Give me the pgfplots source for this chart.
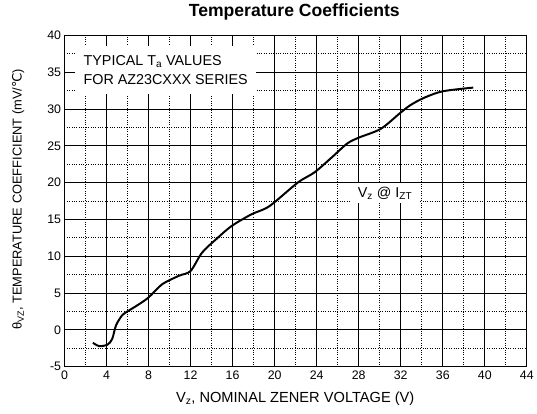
\documentclass[border=0pt]{standalone}
\usepackage{pgfplots}
\pgfplotsset{compat=1.18}
\usepackage{fontspec}
\setmainfont{Liberation Sans}
\newfontfamily\dejavu{DejaVu Sans}
\begin{document}
\begin{tikzpicture}
\begin{axis}[
  at={(0,0)}, anchor=south west,
  scale only axis, width=466bp, height=334bp,
  xmin=0, xmax=44, ymin=-5, ymax=40,
  xtick distance=4, ytick distance=5,
  minor x tick num=1, minor y tick num=1,
  grid=both,
  major grid style={black, line width=0.8pt},
  minor grid style={black, dotted, line width=0.8pt},
  axis line style={black, line width=1.1pt},
  major tick length=0pt, minor tick length=0pt,
  /pgf/number format/assume math mode=true,
  ticklabel style={font=\fontsize{12.5}{14}\selectfont},
  xticklabel style={yshift=-1bp},
  title={\fontsize{17.8}{20}\selectfont\bfseries Temperature Coefficients},
  title style={at={(axis description cs:0.497,1.054)}, anchor=center},
  xlabel={V\textsubscript{z}, NOMINAL ZENER VOLTAGE (V)},
  ylabel={θ\textsubscript{VZ}, TEMPERATURE COEFFICIENT (mV/{\dejavu ℃})},
  xlabel style={font=\fontsize{14.8}{17}\selectfont, at={(axis description cs:0.499,-0.096)}, anchor=center},
  ylabel style={font=\fontsize{13}{15}\selectfont, at={(axis description cs:-0.1,0.505)}, anchor=center},
]
\addplot[black, line width=2pt, smooth, tension=0.5] coordinates {
(2.7,-1.75) (3.3,-2.2) (4.1,-2.0) (4.55,-1.2) (4.9,0.6) (5.5,2.0) (6.1,2.6)
(7,3.4) (8,4.4) (9.3,6.2) (10.9,7.35) (12,8.0) (13.1,10.5) (14.5,12.4)
(15.9,14.1) (17.8,15.7) (19.5,16.8) (22.2,20.0) (23.8,21.4) (25.5,23.5)
(26.9,25.3) (28.0,26.1) (30.1,27.3) (31.9,29.4) (32.9,30.5) (34.2,31.5)
(36.0,32.4) (38.9,32.9)
};
\node[fill=white, inner sep=0pt, minimum width=182bp, minimum height=48bp,
  align=left, font=\fontsize{14.5}{19}\selectfont] at (axis cs:9.63,35.28)
  {TYPICAL T\textsubscript{a} VALUES\\FOR AZ23CXXX SERIES};
\node[fill=white, inner sep=0pt, minimum width=70bp, minimum height=20bp,
  font=\fontsize{14.5}{16}\selectfont] at (axis cs:30.5,18.57)
  {V\textsubscript{z} @ I\textsubscript{ZT}};
\end{axis}
\path[use as bounding box] (-65bp,-47bp) rectangle (472bp,365bp);
\end{tikzpicture}
\end{document}
